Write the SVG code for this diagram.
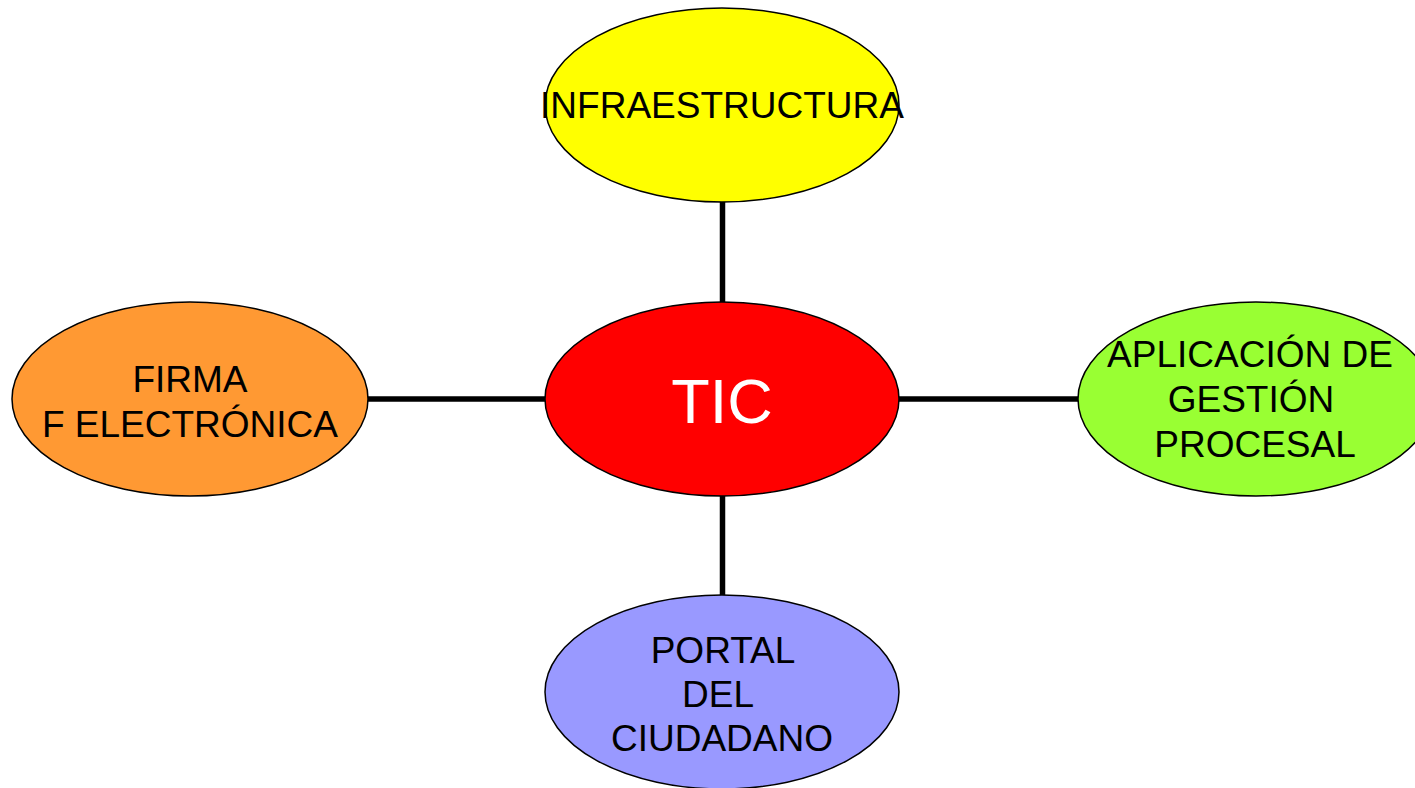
<svg xmlns="http://www.w3.org/2000/svg" width="1415" height="788" viewBox="0 0 1415 788">
<style>
.node ellipse{stroke:#000;stroke-width:1.5}
.lbl{font-family:"Liberation Sans",Arial,sans-serif;font-size:37px;fill:#000;text-anchor:middle}
.conn line{stroke:#000;stroke-width:5.5}
</style>
<rect width="1415" height="788" fill="#fff"/>
<g id="connectors" class="conn">
<line x1="722.5" y1="202" x2="722.5" y2="302"/>
<line x1="722.5" y1="496" x2="722.5" y2="596"/>
<line x1="367" y1="399" x2="546" y2="399"/>
<line x1="899" y1="399" x2="1078" y2="399"/>
</g>
<g id="infraestructura" class="node">
<ellipse cx="722" cy="105" rx="177" ry="97" fill="#FFFF00"/>
<text class="lbl" x="722" y="118">INFRAESTRUCTURA</text>
</g>
<g id="tic" class="node">
<ellipse cx="722" cy="399" rx="177" ry="97" fill="#FF0000"/>
<text x="722" y="423" font-family="Liberation Sans, Arial, sans-serif" font-size="63" fill="#fff" text-anchor="middle">TIC</text>
</g>
<g id="firma" class="node">
<ellipse cx="190" cy="399" rx="178" ry="97" fill="#FF9933"/>
<text class="lbl" x="190" y="392">FIRMA</text>
<text class="lbl" x="190" y="437">F ELECTRÓNICA</text>
</g>
<g id="aplicacion" class="node">
<ellipse cx="1256" cy="399" rx="178" ry="97" fill="#99FF33"/>
<text class="lbl" x="1250" y="367">APLICACIÓN DE</text>
<text class="lbl" x="1251" y="412">GESTIÓN</text>
<text class="lbl" x="1255" y="457">PROCESAL</text>
</g>
<g id="portal" class="node">
<ellipse cx="722" cy="692" rx="177" ry="97" fill="#9999FF"/>
<text class="lbl" x="723" y="663">PORTAL</text>
<text class="lbl" x="718" y="707">DEL</text>
<text class="lbl" x="722" y="751">CIUDADANO</text>
</g>
</svg>
